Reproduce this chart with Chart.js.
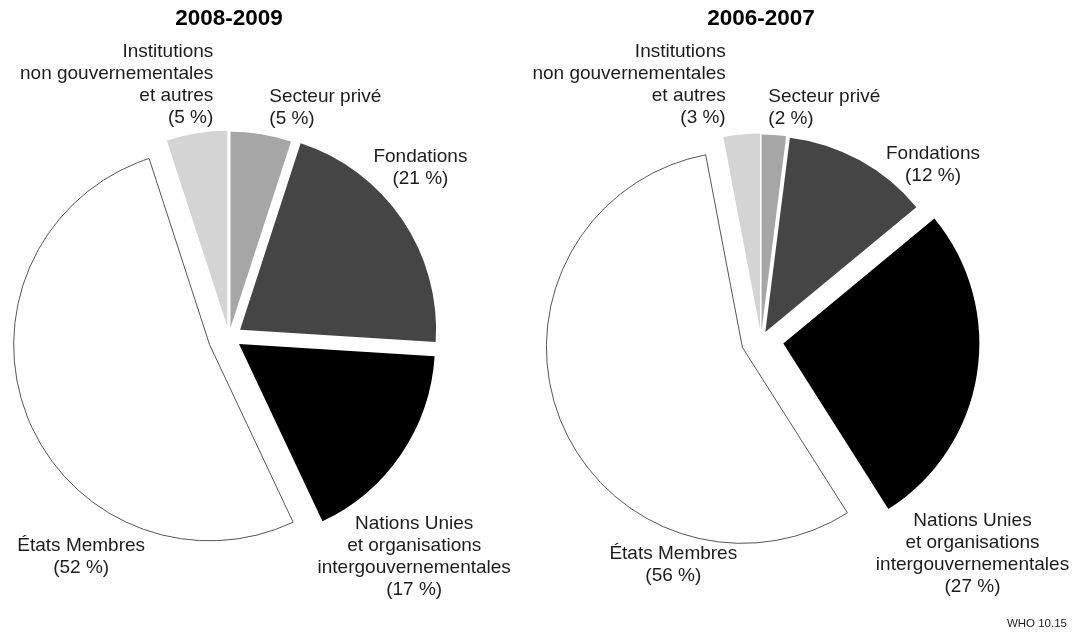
<!DOCTYPE html>
<html><head><meta charset="utf-8">
<script src="https://cdn.jsdelivr.net/npm/chart.js@4.4.1/dist/chart.umd.min.js"></script>
<style>
html,body{margin:0;padding:0;background:#fff;}
body{width:1072px;height:632px;position:relative;overflow:hidden;}
canvas{position:absolute;top:0;}
#c1{left:0;}
#c2{left:500px;}
</style></head><body>
<canvas id="c1" width="536" height="632"></canvas>
<canvas id="c2" width="572" height="632"></canvas>
<script>
// ---- data ----
const categories = [
  ['Secteur privé'],
  ['Fondations'],
  ['Nations Unies', 'et organisations', 'intergouvernementales'],
  ['États Membres'],
  ['Institutions', 'non gouvernementales', 'et autres']
];
const title2008 = '2008-2009';
const title2006 = '2006-2007';
const values2008 = [5, 21, 17, 52, 5];
const values2006 = [2, 12, 27, 56, 3];
const sourceNote = 'WHO 10.15';

// ---- styles ----
const FONT = "'Liberation Sans', Arial, Helvetica, sans-serif";
const sliceColors = ['#a6a6a6', '#454545', '#000000', '#ffffff', '#d4d4d4'];
const sliceBorderColors = ['#a6a6a6', '#454545', '#000000', '#555555', '#d4d4d4'];
const sliceBorderWidths = [0, 0, 0, 1, 0];

// radial explosion of each slice (px, along its mid-angle)
const explodeLeft = [9.5, 13.4, 12.1, 20.8, 10.5];
const explodeRight = [9.4, 9, 22.6, 20, 10.5];

// label placement relative to the pie centre
const placesLeft = [
  {x: 40.3, y: -235.5, align: 'left'},
  {x: 191.4, y: -174.9, align: 'center'},
  {x: 185.2, y: 191.3, align: 'center'},
  {x: -147.8, y: 213.8, align: 'center'},
  {x: -15.7, y: -279.9, align: 'right'}
];
const placesRight = [
  {x: 7.3, y: -238.3, align: 'left'},
  {x: 172, y: -180.7, align: 'center'},
  {x: 211.5, y: 185.7, align: 'center'},
  {x: -87.7, y: 219.3, align: 'center'},
  {x: -35.3, y: -282.7, align: 'right'}
];

const explodePlugin = {
  id: 'explode',
  afterDatasetUpdate(chart, args, opts) {
    const amounts = opts.amounts || [];
    args.meta.data.forEach((arc, i) => {
      const d = amounts[i] || 0;
      const mid = (arc.startAngle + arc.endAngle) / 2;
      arc.x += d * Math.cos(mid);
      arc.y += d * Math.sin(mid);
    });
  }
};

const labelPlugin = {
  id: 'sliceLabels',
  afterDraw(chart, args, opts) {
    const {ctx, chartArea} = chart;
    const cx = (chartArea.left + chartArea.right) / 2;
    const cy = (chartArea.top + chartArea.bottom) / 2;
    const labels = chart.data.labels;
    const vals = chart.data.datasets[0].data;
    ctx.save();
    ctx.font = opts.size + 'px ' + FONT;
    ctx.fillStyle = opts.color;
    ctx.textBaseline = 'alphabetic';
    (opts.places || []).forEach((p, i) => {
      const lines = labels[i].concat(['(' + vals[i] + ' %)']);
      ctx.textAlign = p.align;
      lines.forEach((ln, k) => ctx.fillText(ln, cx + p.x, cy + p.y + k * opts.lineHeight));
    });
    if (opts.note) {
      ctx.font = opts.noteSize + 'px ' + FONT;
      ctx.textAlign = 'right';
      ctx.fillText(opts.note, chart.width - 5, chart.height - 5.3);
    }
    ctx.restore();
  }
};

function makePie(id, title, values, explode, places, padRight, titleBottom, note) {
  return new Chart(document.getElementById(id), {
    type: 'pie',
    data: {
      labels: categories,
      datasets: [{
        data: values,
        backgroundColor: sliceColors,
        borderColor: sliceBorderColors,
        borderWidth: sliceBorderWidths,
        hoverOffset: 0
      }]
    },
    options: {
      responsive: false,
      animation: false,
      devicePixelRatio: 1,
      events: [],
      radius: 196,
      layout: {padding: {left: 0, right: padRight, top: 0, bottom: 0}},
      plugins: {
        legend: {display: false},
        tooltip: {enabled: false},
        title: {
          display: true,
          text: title,
          color: '#000',
          font: {family: FONT, size: 22.5, weight: 'bold'},
          padding: {top: 5, bottom: titleBottom}
        },
        explode: {amounts: explode},
        sliceLabels: {places: places, size: 19, lineHeight: 22, color: '#1c1c1c', note: note, noteSize: 11.5}
      }
    },
    plugins: [explodePlugin, labelPlugin]
  });
}

makePie('c1', title2008, values2008, explodeLeft, placesLeft, 78, 10.4, null);
makePie('c2', title2006, values2006, explodeRight, placesRight, 50, 16, sourceNote);
</script>
</body></html>
